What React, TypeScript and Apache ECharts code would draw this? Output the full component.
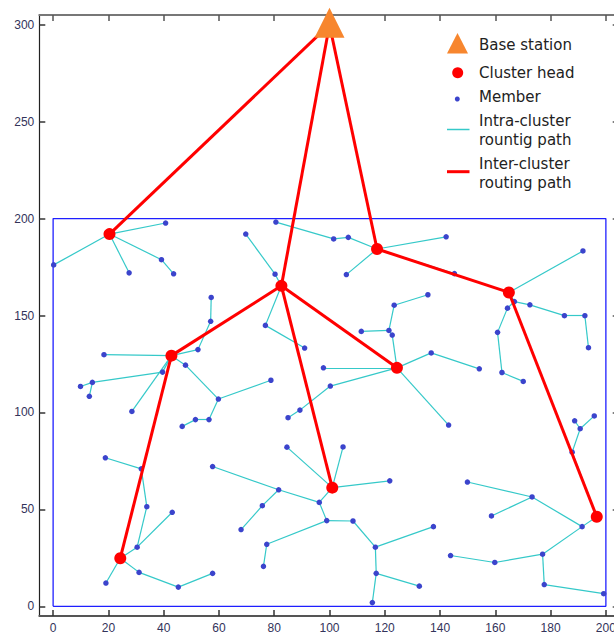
import React, { useEffect, useRef } from "react";
import * as echarts from "echarts";

const xTicks = [0, 20, 40, 60, 80, 100, 120, 140, 160, 180, 200];
const yTicks = [0, 50, 100, 150, 200, 250, 300];

const baseStation: [number, number] = [100, 300];

const headNames = ["A", "B", "C", "D", "E", "F", "G", "H", "I"];
const headX = [20.4, 42.8, 82.6, 24.3, 117.2, 124.4, 101.0, 164.9, 196.7];
const headY = [192.0, 129.3, 165.3, 24.8, 184.3, 123.0, 61.2, 161.9, 46.2];

const memberX = [
  40.7, 0.2, 27.5, 39.2, 43.6,
  57.2, 57.0, 52.4, 18.4, 47.9, 59.8, 39.6, 14.2, 9.9, 13.1, 28.5, 56.4, 51.5, 46.7, 78.8,
  69.7, 80.3, 76.8, 91.0,
  80.6, 101.5, 106.8, 106.1, 142.2, 145.2,
  135.6, 123.4, 121.5, 122.7, 111.5, 97.8, 100.3, 89.3, 85.0, 136.8, 154.2, 143.1,
  84.6, 104.9, 121.8, 96.3, 81.6, 57.7, 75.7, 68.0, 99.0, 108.5, 116.6, 116.9, 132.5, 115.5, 77.3, 76.1, 137.6,
  30.4, 33.9, 31.9, 18.9, 43.1, 19.1, 31.1, 45.3, 57.7,
  191.7, 166.9, 172.5, 185.0, 192.4, 193.7, 164.4, 160.8, 162.4, 170.1,
  187.8, 190.7, 188.7, 195.8, 191.4, 173.3, 149.9, 158.6, 177.1, 159.8, 143.8, 177.7, 199.2,
];
const memberY = [
  197.7, 176.1, 172.0, 178.8, 171.5,
  159.3, 147.0, 132.4, 129.8, 124.4, 106.9, 120.8, 115.5, 113.4, 108.3, 100.5, 96.3, 96.3, 92.8, 116.6,
  192.0, 171.3, 144.9, 133.2,
  198.2, 189.5, 190.3, 171.1, 190.6, 171.6,
  160.7, 155.3, 142.3, 139.9, 141.8, 123.0, 113.6, 101.2, 97.3, 130.7, 122.5, 93.5,
  82.1, 82.2, 64.7, 53.6, 60.1, 72.1, 51.9, 39.6, 44.2, 44.0, 30.5, 17.0, 10.4, 1.9, 32.0, 20.6, 41.1,
  30.5, 51.4, 70.9, 76.6, 48.5, 12.0, 17.5, 9.9, 17.0,
  183.3, 157.2, 155.5, 149.9, 149.9, 133.4, 153.8, 141.3, 120.6, 116.0,
  79.5, 91.6, 95.7, 98.2, 41.1, 56.4, 64.1, 46.6, 26.9, 22.6, 26.2, 11.2, 6.5,
];

// intra-cluster links: head letters or member indices
const intraLinks: [string | number, string | number][] = [
  ["A", 0], ["A", 1], ["A", 2], ["A", 3], [3, 4],
  [5, 6], [6, 7], [7, "B"], ["B", 8], ["B", 9], [9, 10], [10, 16], [16, 17], [17, 18], [10, 19],
  ["B", 11], [11, 12], [12, 13], [12, 14], ["B", 15],
  [20, 21], [21, "C"], ["C", 22], [22, 23],
  [24, 25], [25, 26], [26, "E"], ["E", 27], ["E", 28], ["E", 29],
  [30, 31], [31, 32], [32, 34], [32, 33], [33, "F"], ["F", 35], ["F", 36], [36, 37], [37, 38],
  ["F", 39], [39, 40], ["F", 41],
  ["G", 42], ["G", 43], ["G", 44], ["G", 45], [45, 46], [46, 47], [46, 48], [48, 49], [45, 50],
  [50, 51], [51, 52], [52, 53], [53, 54], [53, 55], [50, 56], [56, 57], [52, 58],
  ["D", 59], [59, 60], [60, 61], [61, 62], [59, 63], ["D", 64], ["D", 65], [65, 66], [66, 67],
  ["H", 68], ["H", 69], [69, 70], [70, 71], [71, 72], [72, 73], [69, 74], [74, 75], [75, 76], [76, 77],
  ["I", 78], [78, 79], [79, 80], [79, 81], ["I", 82], [82, 83], [83, 84], [83, 85], [82, 86],
  [86, 87], [87, 88], [86, 89], [89, 90],
];

const interLinks: [string, string][] = [
  ["BS", "A"], ["BS", "C"], ["BS", "E"], ["C", "B"], ["C", "F"], ["C", "G"],
  ["B", "D"], ["E", "H"], ["H", "I"],
];

const fieldCorners = [[0, 0], [200, 0], [200, 200], [0, 200], [0, 0]];

function pos(id: string | number): [number, number] {
  if (typeof id === "number") return [memberX[id], memberY[id]];
  if (id === "BS") return baseStation;
  const i = headNames.indexOf(id);
  return [headX[i], headY[i]];
}

const CYAN = "#35c9c9";
const RED = "#ff0000";
const BLUE_DOT = "#3b44cc";
const ORANGE = "#f7862e";
const LEG_FONT = '15px "DejaVu Sans"';

export default function App() {
  const ref = useRef<HTMLDivElement>(null);
  useEffect(() => {
    if (!ref.current) return;
    const chart = echarts.init(ref.current, null, { renderer: "svg" });
    const labelStyle = {
      color: "#33335a",
      fontSize: 12,
      fontFamily: "Liberation Sans",
    };
    const legendText = (t: string, y: number) => ({
      type: "text",
      x: 479,
      y,
      z: 100,
      style: { text: t, font: LEG_FONT, fill: "#222", verticalAlign: "middle", align: "left" },
    });
    chart.setOption({
      animation: false,
      backgroundColor: "#fff",
      grid: { left: 39.3, top: 15, right: 0.3, bottom: 19, containLabel: false },
      xAxis: [
        {
          type: "value", min: -5, max: 205, position: "bottom",
          axisLine: { show: true, onZero: false, lineStyle: { color: "#555", width: 2 } },
          axisTick: { show: true, inside: true, length: 6, customValues: xTicks, lineStyle: { color: "#333", width: 1.5 } },
          axisLabel: { ...labelStyle, customValues: xTicks, margin: 6 },
          splitLine: { show: false },
        },
        {
          type: "value", min: -5, max: 205, position: "top",
          axisLine: { show: true, onZero: false, lineStyle: { color: "#777", width: 2 } },
          axisTick: { show: true, inside: true, length: 6, customValues: xTicks, lineStyle: { color: "#555", width: 1.5 } },
          axisLabel: { show: false },
          splitLine: { show: false },
        },
      ],
      yAxis: [
        {
          type: "value", min: -5, max: 305, position: "left",
          axisLine: { show: true, onZero: false, lineStyle: { color: "#222", width: 1.2 } },
          axisTick: { show: true, inside: true, length: 6, customValues: yTicks, lineStyle: { color: "#333", width: 1.5 } },
          axisLabel: { ...labelStyle, customValues: yTicks, margin: 5 },
          splitLine: { show: false },
        },
        {
          type: "value", min: -5, max: 305, position: "right",
          axisLine: { show: true, onZero: false, lineStyle: { color: "#555", width: 2 } },
          axisTick: { show: true, inside: true, length: 7, customValues: yTicks, lineStyle: { color: "#555", width: 1.5 } },
          axisLabel: { show: false },
          splitLine: { show: false },
        },
      ],
      series: [
        {
          type: "line",
          data: fieldCorners,
          symbol: "none",
          lineStyle: { color: "#1f1fff", width: 1.3 },
          z: 1,
        },
        {
          type: "lines",
          coordinateSystem: "cartesian2d",
          polyline: false,
          data: intraLinks.map(([a, b]) => ({ coords: [pos(a), pos(b)] })),
          lineStyle: { color: CYAN, width: 1.2, opacity: 1 },
          z: 2,
        },
        {
          type: "scatter",
          data: memberX.map((x, i) => [x, memberY[i]]),
          symbol: "circle",
          symbolSize: 5.5,
          itemStyle: { color: BLUE_DOT, opacity: 1 },
          z: 3,
        },
        {
          type: "lines",
          coordinateSystem: "cartesian2d",
          polyline: false,
          data: interLinks.map(([a, b]) => ({ coords: [pos(a), pos(b)] })),
          lineStyle: { color: RED, width: 3, opacity: 1 },
          z: 4,
        },
        {
          type: "scatter",
          data: headX.map((x, i) => [x, headY[i]]),
          symbol: "circle",
          symbolSize: 12,
          itemStyle: { color: RED, opacity: 1 },
          z: 5,
        },
        {
          type: "scatter",
          data: [baseStation],
          symbol: "triangle",
          symbolSize: [30, 30],
          symbolOffset: [0, -2],
          itemStyle: { color: ORANGE, opacity: 1 },
          z: 6,
        },
      ],
      graphic: [
        { type: "polygon", z: 100, shape: { points: [[447, 53.5], [457.5, 33], [468, 53.5]] }, style: { fill: ORANGE } },
        legendText("Base station", 45),
        { type: "circle", z: 100, shape: { cx: 457.7, cy: 72.7, r: 5.5 }, style: { fill: RED } },
        legendText("Cluster head", 72.5),
        { type: "circle", z: 100, shape: { cx: 457.3, cy: 99, r: 2.5 }, style: { fill: BLUE_DOT } },
        legendText("Member", 97),
        { type: "line", z: 100, shape: { x1: 447, y1: 129.5, x2: 469.5, y2: 129.5 }, style: { stroke: CYAN, lineWidth: 1.5 } },
        legendText("Intra-cluster", 121),
        legendText("rountig path", 140),
        { type: "line", z: 100, shape: { x1: 447, y1: 171.7, x2: 469.5, y2: 171.7 }, style: { stroke: RED, lineWidth: 3 } },
        legendText("Inter-cluster", 163.5),
        legendText("routing path", 182.5),
      ],
    });
    return () => chart.dispose();
  }, []);
  return (
    <div style={{ position: "fixed", left: 0, top: 0, width: 614, height: 635, overflow: "hidden", background: "#fff" }}>
      <div ref={ref} style={{ width: 620, height: 635 }} />
    </div>
  );
}
